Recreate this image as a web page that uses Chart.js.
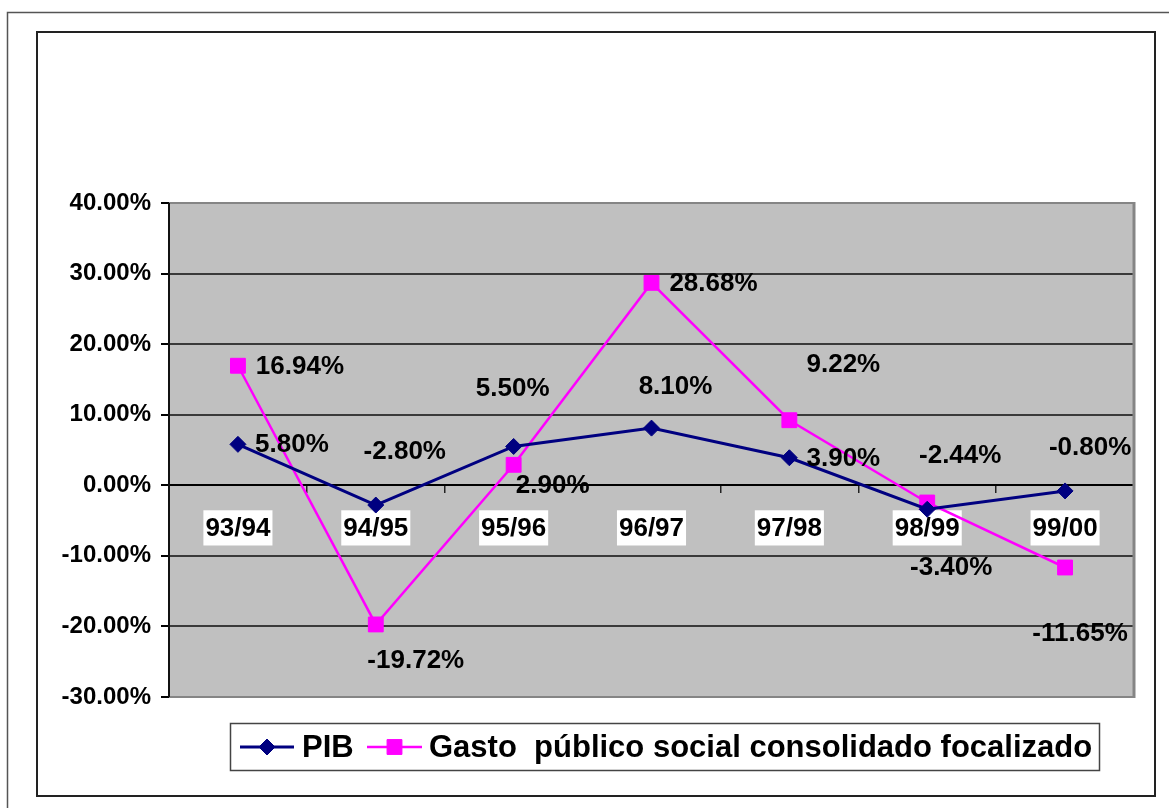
<!DOCTYPE html>
<html>
<head>
<meta charset="utf-8">
<script src="https://cdn.jsdelivr.net/npm/chart.js@4.4.1/dist/chart.umd.min.js"></script>
<style>
  html, body { margin: 0; padding: 0; background: #fff; }
  #wrap { width: 1169px; height: 808px; position: relative; }
</style>
</head>
<body>
<div id="wrap"><canvas id="grafico" width="1169" height="808"></canvas></div>
<script>
// --- datos ---
const categories = ['93/94', '94/95', '95/96', '96/97', '97/98', '98/99', '99/00'];
const pibValues = [5.80, -2.80, 5.50, 8.10, 3.90, -3.40, -0.80];
const gastoValues = [16.94, -19.72, 2.90, 28.68, 9.22, -2.44, -11.65];
const yMin = -30, yMax = 40, yStep = 10;

// desplazamiento de cada etiqueta respecto a su punto (px)
const pibLabelOffsets = [[54, 0], [29, -53], [-1, -58], [24, -41], [54, 1], [24, 59], [25, -43]];
const gastoLabelOffsets = [[62, 1], [40, 36], [39, 21], [62, 1], [54, -55], [33, -47], [15, 66]];

const FONT = '"Liberation Sans", Arial, sans-serif';
const pct = v => v.toFixed(2) + '%';

// fondo gris del area de trazado + marcos exteriores
const fondoPlugin = {
    id: 'fondo',
    beforeDraw(chart) {
        const ctx = chart.ctx;
        const a = chart.chartArea;
        ctx.save();
        ctx.fillStyle = '#fff';
        ctx.fillRect(0, 0, chart.width, chart.height);
        // marco exterior
        ctx.strokeStyle = '#555';
        ctx.lineWidth = 1.5;
        ctx.strokeRect(7.5, 12.5, 1200, 820);
        // marco del grafico
        ctx.strokeStyle = '#222';
        ctx.lineWidth = 2;
        ctx.strokeRect(37, 32, 1118, 764);
        ctx.fillStyle = '#c0c0c0';
        ctx.fillRect(a.left, a.top, a.right - a.left, a.bottom - a.top);
        ctx.restore();
    },
    beforeDatasetsDraw(chart) {
        const ctx = chart.ctx;
        const a = chart.chartArea;
        ctx.save();
        ctx.strokeStyle = '#858585';
        ctx.lineWidth = 2;
        ctx.beginPath();
        ctx.moveTo(a.left, a.top); ctx.lineTo(a.right, a.top);
        ctx.moveTo(a.left, a.bottom); ctx.lineTo(a.right, a.bottom);
        ctx.stroke();
        ctx.lineWidth = 3;
        ctx.beginPath();
        ctx.moveTo(a.right, a.top - 1); ctx.lineTo(a.right, a.bottom + 1);
        ctx.stroke();
        ctx.strokeStyle = '#111';
        ctx.lineWidth = 2;
        ctx.beginPath();
        ctx.moveTo(a.left, a.top); ctx.lineTo(a.left, a.bottom);
        ctx.stroke();
        ctx.restore();
    }
};

// etiquetas de valor
const etiquetasPlugin = {
    id: 'etiquetas',
    afterDatasetsDraw(chart) {
        const ctx = chart.ctx;
        const offsets = [pibLabelOffsets, gastoLabelOffsets];
        ctx.save();
        ctx.font = 'bold 26px ' + FONT;
        ctx.fillStyle = '#000';
        ctx.textAlign = 'center';
        ctx.textBaseline = 'middle';
        chart.data.datasets.forEach((ds, i) => {
            chart.getDatasetMeta(i).data.forEach((pt, j) => {
                const [dx, dy] = offsets[i][j];
                ctx.fillText(pct(ds.data[j]), pt.x + dx, pt.y + dy);
            });
        });
        ctx.restore();
    }
};

// leyenda con linea + marcador
const leyendaPlugin = {
    id: 'leyenda',
    afterDraw(chart) {
        const ctx = chart.ctx;
        ctx.save();
        ctx.fillStyle = '#fff';
        ctx.fillRect(230, 723, 869, 47);
        ctx.strokeStyle = '#444';
        ctx.lineWidth = 1.5;
        ctx.strokeRect(230.5, 723.5, 869, 47);
        const items = [
            { ds: chart.data.datasets[0], x0: 240, x1: 294, tx: 302 },
            { ds: chart.data.datasets[1], x0: 367, x1: 422, tx: 429 }
        ];
        const cy = 747;
        items.forEach(it => {
            ctx.strokeStyle = it.ds.borderColor;
            ctx.lineWidth = it.ds.borderWidth;
            ctx.beginPath();
            ctx.moveTo(it.x0, cy); ctx.lineTo(it.x1, cy);
            ctx.stroke();
            ctx.fillStyle = it.ds.pointBackgroundColor;
            ctx.strokeStyle = it.ds.pointBorderColor;
            ctx.lineWidth = 1;
            Chart.helpers.drawPoint(ctx, {
                pointStyle: it.ds.pointStyle, radius: it.ds.pointRadius, rotation: 0, borderWidth: 1
            }, (it.x0 + it.x1) / 2, cy);
            ctx.fillStyle = '#000';
            ctx.font = 'bold 31px ' + FONT;
            ctx.textAlign = 'left';
            ctx.textBaseline = 'middle';
            ctx.fillText(it.ds.label, it.tx, cy + 1);
        });
        ctx.restore();
    }
};

const ctx = document.getElementById('grafico').getContext('2d');
new Chart(ctx, {
    type: 'line',
    data: {
        labels: categories,
        datasets: [
            {
                label: 'PIB', data: pibValues,
                borderColor: '#000080', borderWidth: 3, tension: 0, fill: false,
                pointStyle: 'rectRot', pointRadius: 8,
                pointBackgroundColor: '#000080', pointBorderColor: '#000080', pointBorderWidth: 1
            },
            {
                label: 'Gasto  público social consolidado focalizado', data: gastoValues,
                borderColor: '#ff00ff', borderWidth: 2.5, tension: 0, fill: false,
                pointStyle: 'rect', pointRadius: 10.5,
                pointBackgroundColor: '#ff00ff', pointBorderColor: '#ff00ff', pointBorderWidth: 1
            }
        ]
    },
    options: {
        responsive: false,
        animation: false,
        events: [],
        layout: { padding: { left: 0, top: 203, right: 35, bottom: 111 } },
        plugins: { legend: { display: false }, tooltip: { enabled: false } },
        scales: {
            x: {
                position: { y: 0 },
                offset: true,
                grid: {
                    offset: true, drawOnChartArea: false, drawTicks: true,
                    tickLength: 7, tickColor: '#222', lineWidth: 1.5
                },
                border: { display: true, color: '#000', width: 2 },
                ticks: {
                    color: '#000', padding: 21,
                    font: { family: FONT, size: 26, weight: 'bold' },
                    showLabelBackdrop: true, backdropColor: '#fff',
                    backdropPadding: { top: 3, bottom: 1, left: 2, right: 2 },
                    maxRotation: 0, autoSkip: false
                }
            },
            y: {
                min: yMin, max: yMax,
                afterFit(scale) { scale.width = 169; },
                grid: {
                    color: '#3a3a3a', lineWidth: 2, drawTicks: true,
                    tickLength: 8, tickColor: '#000'
                },
                border: { display: false },
                ticks: {
                    stepSize: yStep, color: '#000', padding: 10,
                    font: { family: FONT, size: 24, weight: 'bold' },
                    callback: v => pct(v)
                }
            }
        }
    },
    plugins: [fondoPlugin, etiquetasPlugin, leyendaPlugin]
});
</script>
</body>
</html>
